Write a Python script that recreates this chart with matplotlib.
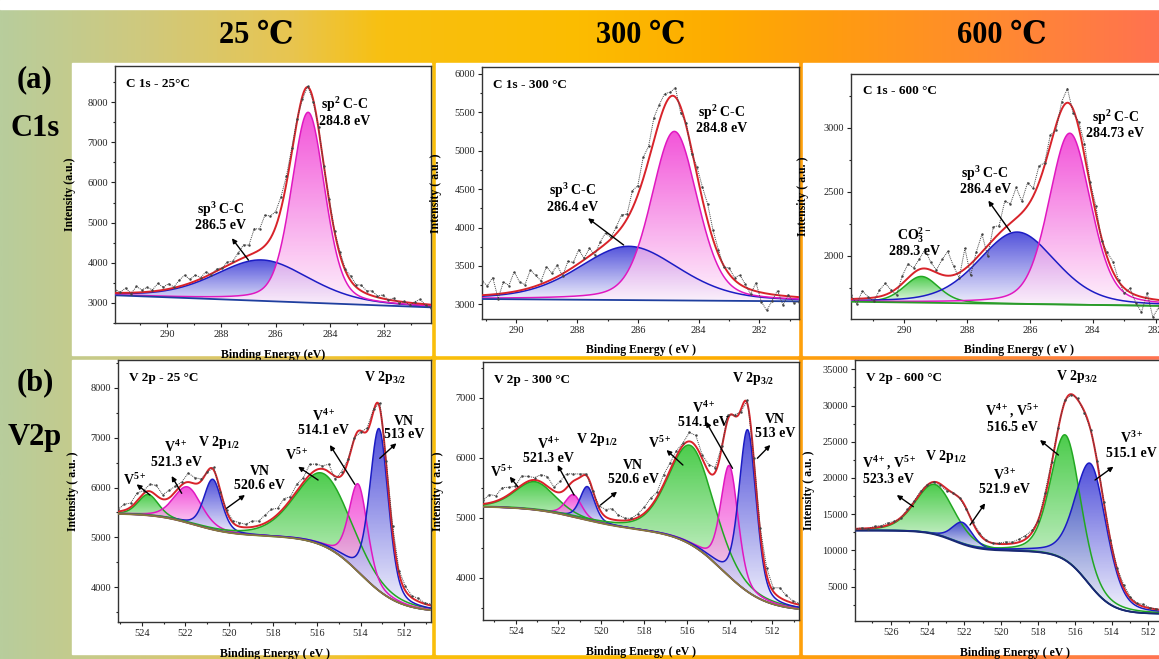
import numpy as np
import matplotlib.pyplot as plt
from matplotlib.colors import LinearSegmentedColormap, to_rgb
from matplotlib.patches import Rectangle
from matplotlib.path import Path
from matplotlib.ticker import MultipleLocator

plt.rcParams['font.family'] = ['Liberation Serif', 'DejaVu Serif']
plt.rcParams['mathtext.fontset'] = 'custom'
plt.rcParams['mathtext.rm'] = 'Liberation Serif:bold'
plt.rcParams['mathtext.it'] = 'Liberation Serif:bold'
plt.rcParams['mathtext.bf'] = 'Liberation Serif:bold'
plt.rcParams['mathtext.default'] = 'rm'

# ---------------- data ----------------
temps = ['25 ℃', '300 ℃', '600 ℃']

# C 1s, 25 C : linear background (left end, right end), peaks
c25_xlim = [291.92, 280.27]
c25_ylim = [2500, 8900]
c25_bg = [3190, 2890]
c25_center = [286.5, 284.8]
c25_height = [1020, 4740]
c25_fwhm = [4.1, 1.45]
c25_color = ['b', 'm']
c25_noise = [80, 20, 120, -20, 150, 60, 110, 40, 180, 70, 130, 20, 160, 240, 90,
             150, 30, 120, -40, 60, 10, 90, 40, 180, 320, 250, 600, 520, 760, 560,
             380, 300, 180, 120, 60, -80, 30, -60, 40, -20, 60, 20, 80, 40, 110,
             60, 140, 70, 120, 30, 90, -10, 60, -40, 20, -60, 40, 110, -30, -80]

# C 1s, 300 C
c300_xlim = [291.13, 280.7]
c300_ylim = [2810, 6090]
c300_bg = [3070, 3040]
c300_center = [286.3, 284.8]
c300_height = [700, 2200]
c300_fwhm = [3.9, 1.8]
c300_color = ['b', 'm']
c300_noise = [180, 120, 220, -60, 150, 90, 260, 110, 60, 230, 140, 40, 200, 80, 150,
              -30, 120, 60, 180, 20, 100, -40, 80, 140, 20, 90, 160, 60, 230, 120,
              280, 180, 300, 220, 160, 60, 120, -80, 40, -60, 100, 160, 220, 120, 60,
              -20, 80, 30, 120, 40, -60, 110, -120, -220, -80, 60, -120, 20, -80, -60]

# C 1s, 600 C
c600_xlim = [291.69, 281.0]
c600_ylim = [1505, 3420]
c600_bg = [1640, 1605]
c600_center = [289.45, 286.4, 284.73]
c600_height = [205, 562, 1340]
c600_fwhm = [1.3, 2.9, 1.57]
c600_color = ['g', 'b', 'm']
c600_noise = [30, -40, 60, 10, -30, 50, 90, 20, -50, 60, 110, 40, 80, 150, 60,
              20, 120, 190, 70, -40, 160, -90, 50, 140, -80, 100, 60, 210, 150, 240,
              90, 180, 60, 130, 20, 80, -40, 60, 110, -30, 50, 90, 20, 60, -20,
              40, 80, 10, -40, 30, -60, -120, 40, -140, -60, 60, 20, -30, 40, 10]

# V 2p : step background (low, step1, centre1, width1, step2, centre2, width2)
v25_xlim = [525.08, 510.78]
v25_ylim = [3305, 8555]
v25_bg = [3500, 1530, 514.0, 0.9, 450, 521.6, 0.9]
v25_center = [523.7, 521.9, 520.75, 515.7, 514.1, 513.15]
v25_height = [420, 720, 1010, 1450, 1760, 3250]
v25_fwhm = [1.1, 1.5, 0.95, 3.0, 1.0, 1.0]
v25_color = ['g', 'm', 'b', 'g', 'm', 'b']
v25_noise = [40, 120, 80, 160, 60, 140, 200, 90, 150, 110, 60, 180, 120, 40, -20,
             60, -40, 20, 40, 80, 60, 120, 90, 160, 200, 120, 180, 60, 140, 90,
             210, 120, 60, 150, -60, 80, 40, 20, -30, 60, 40, 110, 70, 130, 60,
             90, 40, 60, 20, 30]

v300_xlim = [525.53, 510.75]
v300_ylim = [3295, 7595]
v300_bg = [3440, 1350, 514.3, 1.0, 400, 521.0, 1.2]
v300_center = [523.1, 521.3, 520.65, 515.8, 514.0, 513.15]
v300_height = [470, 370, 560, 1650, 1850, 2700]
v300_fwhm = [2.2, 0.9, 0.8, 2.5, 0.95, 0.95]
v300_color = ['g', 'm', 'b', 'g', 'm', 'b']
v300_noise = [60, 140, 90, 180, 120, 60, 150, 80, 40, 120, 160, 60, 190, 230, 120,
              60, 30, -20, 40, 120, 180, 90, 40, 20, 60, 100, 140, 80, 160, 120,
              90, 40, 150, 180, 60, 120, 80, 40, 60, 20, -40, 60, 30, 80, 120,
              60, 160, 90, 40, 20]

v600_xlim = [527.94, 510.5]
v600_ylim = [270, 36280]
v600_bg = [1250, 8700, 515.3, 0.7, 2800, 522.6, 0.7]
v600_center = [523.6, 522.1, 516.5, 515.1]
v600_height = [6900, 3000, 17300, 16900]
v600_fwhm = [2.5, 1.3, 1.9, 2.0]
v600_color = ['g', 'b', 'g', 'b']
v600_noise = [0, 100, -80, 200, 150, 300, 100, -100, 200, 150, 250, 100, -50, -200, -300,
              100, 0, -100, 100, 200, 50, -50, 100, 300, 200, 400, 500, 300, -200, 600,
              400, 200, 300, -100, 200, -200, 100, 300, 200, 100, 200, 400, 200, 100, 300,
              100, 50, 0, 100, 50]

# ---------------- layout / styles ----------------
W, H = 1159, 659
ETA = 0.3
LINE = {'g': '#22a822', 'm': '#e018c0', 'b': '#1c1cc4'}
FILL = {'g': '#20c020', 'm': '#f02ad0', 'b': '#2626d2'}
RED = '#d8232a'


def pvoigt(x, c, h, w):
    g = np.exp(-4 * np.log(2) * ((x - c) / w) ** 2)
    l = 1 / (1 + 4 * ((x - c) / w) ** 2)
    return h * ((1 - ETA) * g + ETA * l)


def lin_bg(x, p, xl):
    return p[0] + (p[1] - p[0]) * (x - xl[0]) / (xl[1] - xl[0])


def step_bg(x, p, xl):
    low, a1, c1, w1, a2, c2, w2 = p
    return low + a1 / (1 + np.exp(-(x - c1) / w1)) + a2 / (1 + np.exp(-(x - c2) / w2))


def grad_fill(ax, x, top, bot, col):
    verts = np.concatenate([np.column_stack([x, top]), np.column_stack([x[::-1], bot[::-1]])])
    path = Path(verts)
    c = np.array(to_rgb(col))
    cmap = LinearSegmentedColormap.from_list('', [0.93 * np.ones(3) + 0.07 * c, c])
    grad = np.linspace(0, 1, 200)[:, None]
    im = ax.imshow(grad, cmap=cmap, extent=[x.min(), x.max(), bot.min(), top.max()],
                   origin='lower', aspect='auto', alpha=0.8, zorder=1, interpolation='bilinear')
    im.set_clip_path(path, transform=ax.transData)


def panel(ax, xl, yl, bgp, bgfun, centers, heights, fwhms, cols, noise, bgcol):
    x = np.linspace(min(xl), max(xl), 900)
    bg = bgfun(x, bgp, xl)
    comps = [pvoigt(x, c, h, w) for c, h, w in zip(centers, heights, fwhms)]
    for comp, h, col in zip(comps, heights, cols):
        m = comp > 0.01 * h
        grad_fill(ax, x[m], bg[m] + comp[m], bg[m], FILL[col])
    for comp, col in zip(comps, cols):
        ax.plot(x, bg + comp, color=LINE[col], lw=1.1, zorder=3)
    ax.plot(x, bg, color=bgcol, lw=1.3, zorder=3.5)
    ax.plot(x, bg + sum(comps), color=RED, lw=1.4, zorder=4)
    xr = np.linspace(xl[0], xl[1], len(noise))
    yr = bgfun(xr, bgp, xl) + sum(pvoigt(xr, c, h, w) for c, h, w in zip(centers, heights, fwhms))
    ax.plot(xr, yr + np.array(noise), color='#444444', lw=0.7, ls=(0, (1, 1)),
            marker='.', ms=1.5, zorder=5)
    ax.set_xlim(xl)
    ax.set_ylim(yl)


fig = plt.figure(figsize=(W / 100, H / 100), dpi=100)

# background: colour band + white panel boxes
bgax = fig.add_axes([0, 0, 1, 1], zorder=-5)
stops = [(0, '#b8cd9c'), (0.12, '#cfc97e'), (0.25, '#e8c550'), (0.33, '#f8c010'),
         (0.5, '#fcbc00'), (0.62, '#feac00'), (0.72, '#ff9c10'), (0.86, '#ff8a30'), (1, '#ff7250')]
band = LinearSegmentedColormap.from_list('band', stops)
bgax.imshow(np.linspace(0, 1, 512)[None, :], cmap=band, extent=[0, W, H, 0], aspect='auto')
bgax.add_patch(Rectangle((0, 0), W, 9, color='white'))
for x0, x1 in [(72, 431), (436, 798), (803, W + 5)]:
    for y0, y1 in [(63, 355), (360, 654)]:
        bgax.add_patch(Rectangle((x0, y0), x1 - x0, y1 - y0, color='white'))
bgax.set_xlim(0, W)
bgax.set_ylim(H, 0)
bgax.axis('off')

for t, xc in zip(temps, [256, 641, 1002]):
    fig.text(xc / W, 1 - 36 / H, t, ha='center', va='center', fontsize=22, fontweight='bold')
for t, yc in [('(a)', 80), ('C1s', 128), ('(b)', 383), ('V2p', 437)]:
    fig.text(35 / W, 1 - yc / H, t, ha='center', va='center', fontsize=22, fontweight='bold')


def make_ax(l, r, t, b):
    return fig.add_axes([l / W, 1 - b / H, (r - l) / W, (b - t) / H])


panels = [
    dict(box=(115, 431, 66, 323), xl=c25_xlim, yl=c25_ylim, bg=c25_bg, f=lin_bg,
         c=c25_center, h=c25_height, w=c25_fwhm, col=c25_color, n=c25_noise, bgc='#1f3f9f',
         ymaj=1000, title='C 1s - 25°C', yl_txt='Intensity (a.u.)', xl_txt='Binding Energy (eV)',
         notes=[('sp$^2$ C-C\n284.8 eV', 283.45, 7760), ('sp$^3$ C-C\n286.5 eV', 288.04, 5160)],
         arrows=[((287.0, 4067), (287.61, 4610))]),
    dict(box=(482, 799, 67, 319), xl=c300_xlim, yl=c300_ylim, bg=c300_bg, f=lin_bg,
         c=c300_center, h=c300_height, w=c300_fwhm, col=c300_color, n=c300_noise, bgc='#1f3f9f',
         ymaj=500, title='C 1s - 300 °C', yl_txt='Intensity ( a.u. )', xl_txt='Binding Energy ( eV )',
         notes=[('sp$^2$ C-C\n284.8 eV', 283.24, 5414), ('sp$^3$ C-C\n286.4 eV', 288.16, 4392)],
         arrows=[((286.47, 3773), (287.64, 4121))]),
    dict(box=(851, 1187, 74, 319), xl=c600_xlim, yl=c600_ylim, bg=c600_bg, f=lin_bg,
         c=c600_center, h=c600_height, w=c600_fwhm, col=c600_color, n=c600_noise, bgc='#2a9a2a',
         ymaj=500, title='C 1s - 600 °C', yl_txt='Intensity ( a.u. )', xl_txt='Binding Energy ( eV )',
         notes=[('sp$^2$ C-C\n284.73 eV', 283.28, 3029), ('sp$^3$ C-C\n286.4 eV', 287.42, 2591),
                ('CO$_3^{2-}$\n289.3 eV', 289.68, 2110)],
         arrows=[((286.62, 2188), (287.32, 2430))]),
    dict(box=(118, 431, 360, 622), xl=v25_xlim, yl=v25_ylim, bg=v25_bg, f=step_bg,
         c=v25_center, h=v25_height, w=v25_fwhm, col=v25_color, n=v25_noise, bgc='#8a7a3a',
         ymaj=1000, title='V 2p - 25 °C', yl_txt='Intensity ( a.u. )', xl_txt='Binding Energy ( eV )',
         notes=[('V 2p$_{3/2}$', 512.89, 8214), ('V$^{4+}$\n514.1 eV', 515.7, 7300),
                ('VN\n513 eV', 512.0, 7190), ('V$^{5+}$', 516.91, 6651),
                ('V 2p$_{1/2}$', 520.47, 6911), ('V$^{4+}$\n521.3 eV', 522.43, 6670),
                ('V$^{5+}$', 524.3, 6150), ('VN\n520.6 eV', 518.6, 6180)],
         arrows=[((523.62, 5850), (524.23, 6064)), ((522.17, 5884), (522.63, 6230)),
                 ((520.12, 5583), (519.28, 5850)), ((515.94, 6150), (516.85, 6417)),
                 ((514.26, 6064), (515.4, 6852)), ((513.12, 6585), (512.36, 6886))]),
    dict(box=(483, 799, 362, 620), xl=v300_xlim, yl=v300_ylim, bg=v300_bg, f=step_bg,
         c=v300_center, h=v300_height, w=v300_fwhm, col=v300_color, n=v300_noise, bgc='#8a7a3a',
         ymaj=1000, title='V 2p - 300 °C', yl_txt='Intensity ( a.u. )', xl_txt='Binding Energy ( eV )',
         notes=[('V 2p$_{3/2}$', 512.89, 7328), ('V$^{4+}$\n514.1 eV', 515.2, 6720),
                ('VN\n513 eV', 511.87, 6520), ('V$^{5+}$', 517.24, 6240),
                ('V 2p$_{1/2}$', 520.2, 6295), ('V$^{4+}$\n521.3 eV', 522.45, 6120),
                ('V$^{5+}$', 524.65, 5767), ('VN\n520.6 eV', 518.5, 5753)],
         arrows=[((523.9, 5517), (524.28, 5683)), ((521.27, 5378), (522.04, 5878)),
                 ((520.03, 5212), (519.26, 5433)), ((516.18, 5878), (516.95, 6128)),
                 ((513.86, 5823), (515.1, 6600)), ((512.7, 5990), (512.09, 6212))]),
    dict(box=(855, 1176, 360, 621), xl=v600_xlim, yl=v600_ylim, bg=v600_bg, f=step_bg,
         c=v600_center, h=v600_height, w=v600_fwhm, col=v600_color, n=v600_noise, bgc='#1a2a70',
         ymaj=5000, title='V 2p - 600 °C', yl_txt='Intensity ( a.u. )', xl_txt='Binding Energy ( eV )',
         notes=[('V 2p$_{3/2}$', 515.87, 33980), ('V$^{4+}$, V$^{5+}$\n516.5 eV', 519.4, 28240),
                ('V$^{3+}$\n515.1 eV', 512.9, 24550), ('V$^{4+}$, V$^{5+}$\n523.3 eV', 526.1, 21100),
                ('V 2p$_{1/2}$', 523.0, 22940), ('V$^{3+}$\n521.9 eV', 519.8, 19490)],
         arrows=[((524.77, 16040), (525.67, 17650)), ((521.69, 13520), (520.87, 16510)),
                 ((516.89, 23170), (517.89, 25240)), ((514.9, 19720), (513.9, 21560))]),
]

for p in panels:
    ax = make_ax(*p['box'])
    panel(ax, p['xl'], p['yl'], p['bg'], p['f'], p['c'], p['h'], p['w'], p['col'], p['n'], p['bgc'])
    ax.xaxis.set_major_locator(MultipleLocator(2))
    ax.xaxis.set_minor_locator(MultipleLocator(1))
    ax.yaxis.set_major_locator(MultipleLocator(p['ymaj']))
    ax.yaxis.set_minor_locator(MultipleLocator(p['ymaj'] / 2))
    ax.tick_params(which='both', direction='out', labelsize=7.5, pad=2, width=0.8, colors='#222222')
    ax.tick_params(which='major', length=3)
    ax.tick_params(which='minor', length=1.6)
    for s in ax.spines.values():
        s.set_linewidth(1.0)
        s.set_color('#333333')
    ax.set_ylabel(p['yl_txt'], fontsize=8.5, fontweight='bold')
    ax.set_xlabel(p['xl_txt'], fontsize=8.5, fontweight='bold')
    ax.yaxis.set_label_coords(-0.125, 0.5)
    ax.xaxis.set_label_coords(0.5, -0.1)
    ax.text(0.035, 0.93, p['title'], transform=ax.transAxes, fontsize=9.5,
            fontweight='bold', va='center', ha='left')
    for txt, tx, ty in p['notes']:
        ax.text(tx, ty, txt, fontsize=10, fontweight='bold', ha='center', va='center',
                linespacing=1.05, zorder=6)
    for tail, head in p['arrows']:
        ax.annotate('', xy=head, xytext=tail, zorder=6,
                    arrowprops=dict(arrowstyle='-|>', color='black', lw=1.0,
                                    mutation_scale=7, shrinkA=0, shrinkB=0))

fig.savefig('out.png', dpi=100)
